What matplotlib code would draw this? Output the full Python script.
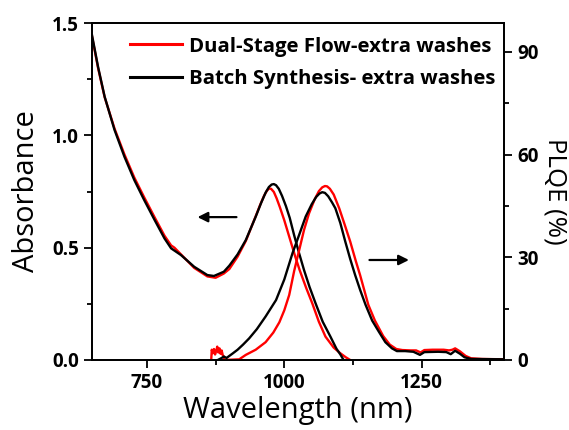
import matplotlib
matplotlib.use('Agg')
import matplotlib.pyplot as plt
from matplotlib.ticker import MultipleLocator, FormatStrFormatter

plt.rcParams['font.family'] = ['Open Sans', 'DejaVu Sans']

# --- absorbance (left axis) ---
abs_flow_wl = [650, 661, 673, 691, 709, 727, 745, 764, 782, 794, 800, 812, 836, 860, 875,
               890, 900, 915, 930, 948, 956, 963, 968, 972, 976, 981, 986, 992, 1000, 1009,
               1020, 1028, 1040, 1051, 1063, 1075, 1090, 1102, 1112, 1120]
abs_flow = [1.44, 1.30, 1.17, 1.03, 0.915, 0.812, 0.724, 0.635, 0.553, 0.51, 0.50, 0.47, 0.41,
            0.372, 0.366, 0.385, 0.405, 0.46, 0.53, 0.64, 0.69, 0.73, 0.752, 0.763, 0.762,
            0.748, 0.72, 0.68, 0.622, 0.549, 0.46, 0.40, 0.32, 0.252, 0.17, 0.104, 0.055,
            0.03, 0.012, 0.0]

abs_batch_wl = [650, 661, 673, 691, 709, 727, 745, 764, 782, 794, 812, 836, 860, 872, 890,
                900, 915, 930, 948, 958, 966, 972, 977, 981, 985, 990, 996, 1003, 1010, 1018,
                1027, 1036, 1046, 1057, 1070, 1084, 1095, 1102, 1108]
abs_batch = [1.446, 1.305, 1.172, 1.024, 0.905, 0.801, 0.712, 0.623, 0.541, 0.497, 0.467, 0.415,
             0.378, 0.374, 0.393, 0.42, 0.47, 0.534, 0.638, 0.70, 0.745, 0.77, 0.781, 0.783,
             0.778, 0.762, 0.73, 0.685, 0.632, 0.555, 0.475, 0.40, 0.325, 0.252, 0.17, 0.104,
             0.05, 0.025, 0.0]

# --- PLQE (right axis) ---
pl_flow_wl = [867, 868, 870, 872, 874, 876, 878, 880, 882, 884, 886, 888, 890, 891, 918, 930,
              948, 966, 980, 991, 1000, 1009, 1018, 1027, 1036, 1045, 1055, 1063, 1069, 1074,
              1078, 1083, 1090, 1100, 1110, 1120, 1130, 1138, 1153, 1165, 1180, 1192, 1204,
              1215, 1230, 1240, 1248, 1255, 1270, 1290, 1300, 1306, 1311, 1320, 1330, 1340,
              1360, 1400]
pl_flow = [0, 3.0, 2.0, 3.2, 1.6, 2.6, 3.9, 2.2, 3.4, 1.8, 2.8, 1.4, 1.0, 0, 0.2, 1.5,
           3.0, 5.2, 8.0, 11.0, 14.5, 19.0, 26.0, 32.0, 38.0, 42.8, 46.8, 49.3, 50.4, 50.8,
           50.7, 50.0, 48.3, 44.3, 39.5, 34.6, 29.0, 24.8, 16.1, 11.5, 7.0, 4.5, 3.2,
           2.9, 2.8, 2.8, 2.2, 2.9, 3.0, 3.0, 2.8, 3.0, 3.4, 2.5, 1.2, 0.5,
           0.3, 0.2]

pl_batch_wl = [879, 885, 890, 895, 900, 906, 915, 925, 936, 950, 966, 985, 1000, 1015, 1027,
               1039, 1050, 1058, 1064, 1069, 1074, 1080, 1087, 1093, 1102, 1111, 1120, 1129,
               1138, 1148, 1160, 1172, 1184, 1196, 1205, 1220, 1235, 1247, 1255, 1280, 1295,
               1303, 1311, 1320, 1328, 1340, 1400]
pl_batch = [0, 0.5, 1.0, 0.6, 1.2, 1.9, 3.0, 4.5, 6.3, 9.0, 12.7, 17.5, 23.5, 31.2, 36.5,
            41.9, 45.5, 47.6, 48.6, 49.0, 48.8, 47.8, 46.0, 44.3, 40.0, 34.6, 29.5, 24.8,
            20.5, 16.1, 11.5, 8.3, 5.2, 3.4, 2.6, 2.6, 2.4, 1.5, 2.3, 2.4, 2.3,
            1.7, 2.7, 1.8, 0.8, 0.3, 0.2]

labels = ['Dual-Stage Flow-extra washes', 'Batch Synthesis- extra washes']
colors = ['#ff0000', '#000000']

# arrow positions (data units)
abs_arrow = (918, 837, 0.636)
pl_arrow = (1150, 1232, 29.2)

fig = plt.figure(figsize=(5.69, 4.30), dpi=100)
ax = fig.add_axes([0.1617, 0.1628, 0.7241, 0.7837])
ax2 = ax.twinx()

lw = 1.7
l1, = ax.plot(abs_flow_wl, abs_flow, color=colors[0], lw=lw)
l2, = ax.plot(abs_batch_wl, abs_batch, color=colors[1], lw=lw)
ax2.plot(pl_flow_wl, pl_flow, color=colors[0], lw=lw)
ax2.plot(pl_batch_wl, pl_batch, color=colors[1], lw=lw)

ax.set_xlim(650, 1400)
ax.set_ylim(0, 1.5)
ax2.set_ylim(0, 98.4)

ax.xaxis.set_major_locator(MultipleLocator(250))
ax.xaxis.set_minor_locator(MultipleLocator(125))
ax.yaxis.set_major_locator(MultipleLocator(0.5))
ax.yaxis.set_minor_locator(MultipleLocator(0.25))
ax2.yaxis.set_major_locator(MultipleLocator(30))
ax2.yaxis.set_minor_locator(MultipleLocator(15))
ax.set_xticks([750, 1000, 1250])
ax.yaxis.set_major_formatter(FormatStrFormatter('%.1f'))

for a in (ax, ax2):
    for s in a.spines.values():
        s.set_linewidth(1.3)
    a.tick_params(which='major', direction='out', length=6, width=1.3, labelsize=13.5)
    a.tick_params(which='minor', direction='out', length=3.5, width=1.3)
for t in ax.get_xticklabels() + ax.get_yticklabels() + ax2.get_yticklabels():
    t.set_fontweight('bold')

ax.set_xlabel('Wavelength (nm)', fontsize=21, labelpad=2)
ax.set_ylabel('Absorbance', fontsize=21, labelpad=8)
ax2.set_ylabel('PLQE (%)', fontsize=18.5, rotation=270, labelpad=21)

ax.annotate('', xy=(abs_arrow[1], abs_arrow[2]), xytext=(abs_arrow[0], abs_arrow[2]),
            arrowprops=dict(arrowstyle='-|>', color='black', lw=1.6, mutation_scale=15))
ax2.annotate('', xy=(pl_arrow[1], pl_arrow[2]), xytext=(pl_arrow[0], pl_arrow[2]),
             arrowprops=dict(arrowstyle='-|>', color='black', lw=1.6, mutation_scale=15))

leg = ax.legend([l1, l2], labels, loc='upper left', bbox_to_anchor=(0.068, 0.99),
                frameon=False, borderpad=0, handlelength=2.55, handletextpad=0.35,
                labelspacing=0.6, prop={'weight': 'bold', 'size': 14.7})
for h in leg.get_lines():
    h.set_linewidth(2.2)

fig.savefig('out.png', dpi=100)
